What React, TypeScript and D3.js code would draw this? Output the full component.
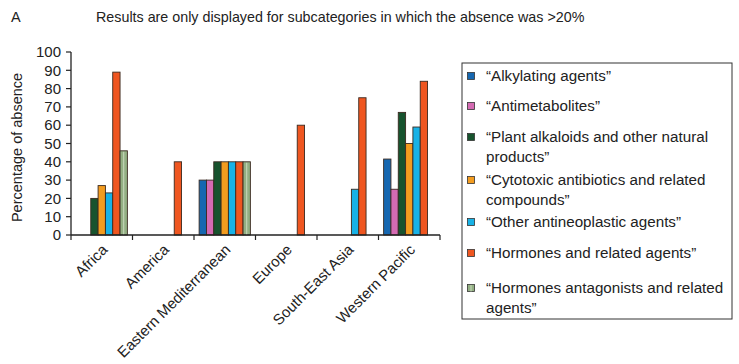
import * as React from "react";
import { range, scaleBand, scaleLinear } from "d3";

const categories = ["Africa", "America", "Eastern Mediterranean", "Europe", "South-East Asia", "Western Pacific"];
const seriesNames = [
  "\u201cAlkylating agents\u201d",
  "\u201cAntimetabolites\u201d",
  "\u201cPlant alkaloids and other natural products\u201d",
  "\u201cCytotoxic antibiotics and related compounds\u201d",
  "\u201cOther antineoplastic agents\u201d",
  "\u201cHormones and related agents\u201d",
  "\u201cHormones antagonists and related agents\u201d",
];
// legend text as it wraps in the figure
const legendLines = [
  ["\u201cAlkylating agents\u201d"],
  ["\u201cAntimetabolites\u201d"],
  ["\u201cPlant alkaloids and other natural", "products\u201d"],
  ["\u201cCytotoxic antibiotics and related", "compounds\u201d"],
  ["\u201cOther antineoplastic agents\u201d"],
  ["\u201cHormones and related agents\u201d"],
  ["\u201cHormones antagonists and related", "agents\u201d"],
];
// one array per series, values per category (null = not shown)
const alkylating = [null, null, 30, null, null, 41.5];
const antimetabolites = [null, null, 30, null, null, 25];
const plantAlkaloids = [20, null, 40, null, null, 67];
const cytotoxic = [27, null, 40, null, null, 50];
const otherAntineoplastic = [23, null, 40, null, 25, 59];
const hormones = [89, 40, 40, 60, 75, 84];
const hormoneAntagonists = [46, null, 40, null, null, null];
const seriesValues = [alkylating, antimetabolites, plantAlkaloids, cytotoxic, otherAntineoplastic, hormones, hormoneAntagonists];
const colors = ["#1667b0", "#d56bb3", "#17532e", "#f39c1f", "#18b2e6", "#ef5620", "#93b083"];
const yTicks = range(0, 101, 10);

const font = "'Liberation Sans', Arial, sans-serif";

export default function App() {
  const W = 739, H = 364;
  const x = scaleBand().domain(categories).range([71, 440]).padding(0);
  const inner = scaleBand()
    .domain(range(seriesNames.length).map((d) => `${d}`))
    .range([0, x.bandwidth()])
    .paddingInner(0)
    .paddingOuter(0.7);
  const y = scaleLinear().domain([0, 100]).range([235, 52]);

  const legendY = [76, 106, 137, 180, 222, 253, 288];

  return (
    <svg width={W} height={H} style={{ position: "absolute", left: 0, top: 0, background: "#fff" }} fontFamily={font}>
      <text x={11} y={22} fontSize={14.5} fill="#222">A</text>
      <text x={96} y={22} fontSize={14.3} fill="#222">Results are only displayed for subcategories in which the absence was &gt;20%</text>

      {/* y axis */}
      <line x1={71} x2={71} y1={y(100)} y2={y(0)} stroke="#222" strokeWidth={1.3} />
      {yTicks.map((t) => (
        <g key={t}>
          <line x1={66} x2={71} y1={y(t)} y2={y(t)} stroke="#222" strokeWidth={1.2} />
          <text x={61} y={y(t)} dy="0.35em" textAnchor="end" fontSize={15} fill="#222">{t}</text>
        </g>
      ))}
      <text transform={`translate(22,${(y(0) + y(100)) / 2 + 4}) rotate(-90)`} textAnchor="middle" fontSize={14.5} fill="#222">Percentage of absence</text>

      {/* bars */}
      {categories.map((c, ci) => (
        <g key={c} transform={`translate(${x(c)},0)`}>
          {seriesValues.map((vals, si) => {
            const v = vals[ci];
            if (v == null) return null;
            const bx = inner(`${si}`) as number;
            const bw = inner.bandwidth();
            return (
              <g key={si}>
                <rect x={bx} y={y(v)} width={bw} height={y(0) - y(v)} fill={colors[si]} stroke="#3a2a20" strokeWidth={0.9} />
                {si === 6 && (
                  <line x1={bx + bw / 2} x2={bx + bw / 2} y1={y(v) + 1} y2={y(0)} stroke="#c9d9bd" strokeWidth={1} />
                )}
              </g>
            );
          })}
        </g>
      ))}

      {/* x axis */}
      <line x1={71} x2={440} y1={y(0)} y2={y(0)} stroke="#222" strokeWidth={1.3} />
      {range(categories.length + 1).map((i) => {
        const xx = i < categories.length ? (x(categories[i]) as number) : 440;
        return <line key={i} x1={xx} x2={xx} y1={y(0)} y2={y(0) + 5} stroke="#222" strokeWidth={1.2} />;
      })}
      {categories.map((c) => {
        const cx = (x(c) as number) + x.bandwidth() / 2;
        return (
          <text key={c} transform={`translate(${cx + 3},${y(0) + 12}) rotate(-45)`} textAnchor="end" fontSize={15} fill="#222" dy="0.35em">{c}</text>
        );
      })}

      {/* legend */}
      <rect x={462} y={63} width={270} height={256} fill="#fff" stroke="#333" strokeWidth={1} />
      {legendLines.map((lines, i) => (
        <g key={i}>
          <rect x={467.5} y={legendY[i] - 3.5} width={7} height={7} fill={colors[i]} stroke="#333" strokeWidth={0.8} />
          {i === 6 && <line x1={471} x2={471} y1={legendY[i] - 3} y2={legendY[i] + 3.5} stroke="#c9d9bd" strokeWidth={1} />}
          {lines.map((l, li) => (
            <text key={li} x={486} y={legendY[i] + li * 19.5} dy="0.35em" fontSize={15.2} fill="#222">{l}</text>
          ))}
        </g>
      ))}
    </svg>
  );
}
